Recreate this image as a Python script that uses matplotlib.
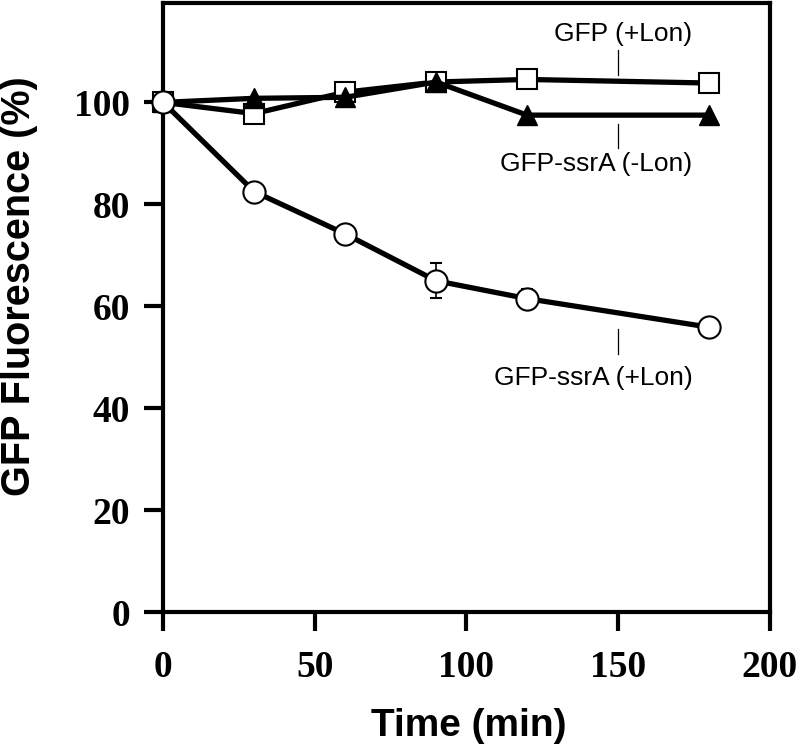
import numpy as np
import matplotlib.pyplot as plt

time = [0, 30, 60, 90, 120, 180]
gfp_lon = [100, 97.8, 102, 104, 104.5, 103.8]
ssra_nolon = [100, 100.8, 101, 104, 97.5, 97.5]
ssra_lon = [100, 82.5, 74.2, 65.0, 61.5, 55.9]
ssra_lon_err = [0, 0, 0, 3.4, 1.8, 0]

plt.rcParams['font.family'] = 'Liberation Serif'

fig = plt.figure(figsize=(8, 7.51), dpi=100)
ax = fig.add_axes([0.204, 0.185, 0.758, 0.811])

ax.plot(time, gfp_lon, color='black', lw=3.8, marker='s', ms=15,
        mfc='white', mec='black', mew=1.5, clip_on=False, zorder=3)
ax.plot(time, ssra_nolon, color='black', lw=3.8, marker='^', ms=15,
        mfc='black', mec='black', clip_on=False, zorder=4)
ax.errorbar(time, ssra_lon, yerr=ssra_lon_err, color='black', lw=3.8,
            marker='o', ms=16, mfc='white', mec='black', mew=1.5,
            ecolor='black', elinewidth=1.2, capsize=4, capthick=1.2,
            clip_on=False, zorder=5)

# labels with short leader lines (text right-aligned)
labels = [('GFP (+Lon)', 113.5, 110.3, 105.3),
          ('GFP-ssrA (-Lon)', 88.0, 95.8, 91.0),
          ('GFP-ssrA (+Lon)', 46.0, 55.5, 50.7)]
for txt, ty, y0, y1 in labels:
    ax.plot([150, 150], [y0, y1], color='black', lw=0.9)
    ax.text(174.5, ty, txt, ha='right', va='center', fontsize=19,
            family='Liberation Sans')

ax.set_xlim(0, 200)
ax.set_ylim(0, 119.5)
ax.set_xticks([0, 50, 100, 150, 200])
ax.set_yticks([0, 20, 40, 60, 80, 100])
ax.tick_params(axis='both', direction='out', width=3, labelsize=27)
ax.tick_params(axis='x', length=14, pad=13)
ax.tick_params(axis='y', length=14, pad=10)
for lab in ax.get_xticklabels() + ax.get_yticklabels():
    lab.set_fontweight('bold')
for sp in ax.spines.values():
    sp.set_linewidth(3)

fig.text(469 / 800, 1 - 726 / 751, 'Time (min)', family='Liberation Sans',
         fontweight='bold', fontsize=28, ha='center', va='center')
fig.text(19 / 800, 1 - 286 / 751, 'GFP Fluorescence (%)',
         family='Liberation Sans', fontweight='bold', fontsize=28.5,
         rotation=90, ha='center', va='center')

fig.savefig('out.png', dpi=100)
